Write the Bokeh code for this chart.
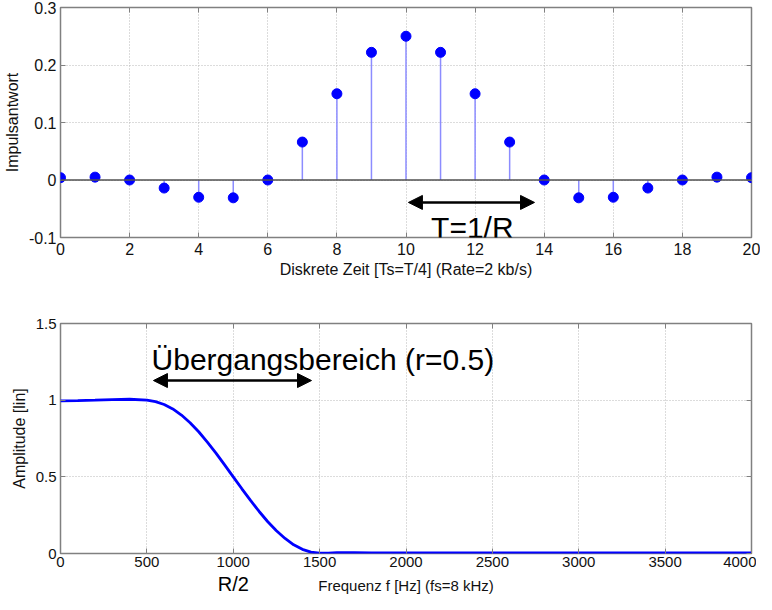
import numpy as np
from bokeh.plotting import figure
from bokeh.models import (Range1d, LinearAxis, FixedTicker, Arrow, NormalHead,
                          Label, CustomJSTickFormatter, Span)
from bokeh.core.properties import value
from bokeh.layouts import column
from bokeh.embed import file_html
from bokeh.resources import INLINE

# ---------------- data ----------------
n_samples = list(range(21))
impulse = [0.004, 0.005, 0.0, -0.014, -0.030, -0.031, 0.0, 0.066, 0.150, 0.222,
           0.250, 0.222, 0.150, 0.066, 0.0, -0.031, -0.030, -0.014, 0.0, 0.005, 0.004]

freq_hz = [0, 100, 200, 300, 400, 500, 550, 600, 650, 700, 750, 800, 850, 900, 950,
           1000, 1050, 1100, 1150, 1200, 1250, 1300, 1350, 1400, 1450, 1500, 1550,
           1600, 1700, 1800, 2000, 2500, 3000, 3500, 4000]
amplitude = [0.995, 0.997, 1.0, 1.004, 1.006, 1.0, 0.99, 0.972, 0.943, 0.903, 0.853,
             0.794, 0.727, 0.655, 0.578, 0.5, 0.422, 0.346, 0.274, 0.207, 0.148,
             0.098, 0.057, 0.027, 0.009, 0.002, 0.003, 0.005, 0.005, 0.004, 0.004,
             0.004, 0.004, 0.004, 0.004]

top_xticks = [0, 2, 4, 6, 8, 10, 12, 14, 16, 18, 20]
top_yticks = [-0.1, 0.0, 0.1, 0.2, 0.3]
bot_xticks = [0, 500, 1000, 1500, 2000, 2500, 3000, 3500, 4000]
bot_yticks = [0.0, 0.5, 1.0, 1.5]

top_xlabel = "Diskrete Zeit [Ts=T/4] (Rate=2 kb/s)"
top_ylabel = "Impulsantwort"
bot_xlabel = "Frequenz f [Hz] (fs=8 kHz)"
bot_ylabel = "Amplitude [lin]"

FONT = "Liberation Sans"
GRAY = "#808080"
FRAME_W, FRAME_H = 691, 230
LEFT, RIGHT = 56, 9


def style(p, xticks, yticks, yfmt, tick_size="16px", x_standoff=5):
    p.background_fill_color = "white"
    p.border_fill_color = "white"
    p.outline_line_color = GRAY
    p.outline_line_width = 1.5
    for ax in list(p.xaxis) + list(p.yaxis):
        ax.axis_line_color = None
        ax.major_tick_in = 5
        ax.major_tick_out = 0
        ax.major_tick_line_color = GRAY
        ax.minor_tick_line_color = None
        ax.major_label_text_font = FONT
        ax.major_label_text_font_size = tick_size
        ax.major_label_text_color = "#111111"
        ax.axis_label_text_font = FONT
        ax.axis_label_text_font_size = "16px"
        ax.axis_label_text_font_style = "normal"
        ax.axis_label_text_color = "#111111"
    p.xaxis.ticker = FixedTicker(ticks=xticks)
    p.yaxis.ticker = FixedTicker(ticks=yticks)
    p.yaxis.formatter = CustomJSTickFormatter(code=yfmt)
    p.xaxis.major_label_standoff = x_standoff
    p.yaxis.major_label_standoff = 4
    p.xaxis.axis_label_standoff = 3
    p.yaxis.axis_label_standoff = 5
    for g in [p.xgrid, p.ygrid]:
        g.grid_line_color = "#b8b8b8"
        g.grid_line_dash = "1 2"
        g.grid_line_width = 1
    p.xgrid.ticker = FixedTicker(ticks=xticks)
    p.ygrid.ticker = FixedTicker(ticks=yticks)
    # mirrored inside ticks on the top and right edges (MATLAB box)
    for loc, tk in (("right", yticks), ("above", xticks)):
        ax = LinearAxis(ticker=FixedTicker(ticks=tk), major_label_text_font_size="0px",
                        axis_line_color=None, major_tick_in=5, major_tick_out=0,
                        major_tick_line_color=GRAY, minor_tick_line_color=None,
                        major_label_standoff=0)
        p.add_layout(ax, loc)


def arrow(p, x0, x1, y):
    p.add_layout(Arrow(start=NormalHead(size=14, fill_color="black", line_color="black"),
                       end=NormalHead(size=14, fill_color="black", line_color="black"),
                       x_start=x0, y_start=y, x_end=x1, y_end=y,
                       line_width=2.5, line_color="black"))


# ---------------- top: impulse response ----------------
p1 = figure(frame_width=FRAME_W, frame_height=FRAME_H, output_backend="svg",
            toolbar_location=None,
            x_range=Range1d(0, 20), y_range=Range1d(-0.1, 0.3),
            min_border_left=LEFT, min_border_right=RIGHT, min_border_top=7,
            min_border_bottom=55,
            x_axis_label=top_xlabel, y_axis_label=top_ylabel)
style(p1, top_xticks, top_yticks,
      "return Math.abs(tick) < 1e-9 ? '0' : tick.toFixed(1);")
p1.add_layout(Span(location=0, dimension="width", line_color="#505050", line_width=1.5))
p1.segment(x0=n_samples, y0=[0] * len(n_samples), x1=n_samples, y1=impulse,
           line_color="#8c8cff", line_width=1.5)
p1.scatter(n_samples, impulse, size=10, fill_color="#0000ff", line_color="#0000ff")
arrow(p1, 10.07, 13.72, -0.039)
p1.add_layout(Label(x=11.92, y=-0.083, text="T=1/R", text_align="center",
                    text_baseline="alphabetic", text_font=FONT, text_font_size="30px",
                    text_color="black"))

# ---------------- bottom: frequency response ----------------
p2 = figure(frame_width=FRAME_W, frame_height=FRAME_H, output_backend="svg",
            toolbar_location=None,
            x_range=Range1d(0, 4000), y_range=Range1d(0, 1.5),
            min_border_left=LEFT, min_border_right=RIGHT, min_border_top=31,
            min_border_bottom=24,
            y_axis_label=bot_ylabel)
style(p2, bot_xticks, bot_yticks,
      "return (Math.round(tick * 10) / 10).toString();", tick_size="15px", x_standoff=3)
p2.line(freq_hz, amplitude, line_color="#0000ff", line_width=2.8)
arrow(p2, 538, 1453, 1.128)
p2.add_layout(Label(x=527, y=1.266, text="Übergangsbereich (r=0.5)", text_align="left",
                    text_baseline="alphabetic", text_font=FONT, text_font_size="30px",
                    text_color="black"))

# ------- transparent strip overlapping the lower plot's bottom border -------
# carries the lower plot's x-axis title and the "R/2" mark, on the same x scale
STRIP_H = 41
p3 = figure(frame_width=FRAME_W, frame_height=STRIP_H, output_backend="svg",
            toolbar_location=None, x_range=p2.x_range, y_range=Range1d(0, STRIP_H),
            min_border_left=LEFT, min_border_right=RIGHT, min_border_top=0,
            min_border_bottom=0, x_axis_location=None, y_axis_location=None,
            margin=(-24, 0, 0, 0))
p3.outline_line_color = None
p3.xgrid.visible = False
p3.ygrid.visible = False
p3.background_fill_color = None
p3.border_fill_color = None
p3.text(x=[1000], y=[10.3], text=["R/2"], text_align="center",
        text_baseline="alphabetic", text_font=value(FONT), text_font_size="20px",
        text_color="black")
p3.text(x=[2000], y=[9.5], text=[bot_xlabel], text_align="center",
        text_baseline="alphabetic", text_font=value(FONT), text_font_size="15px",
        text_color="#111111")

layout = column(p1, p2, p3, spacing=0)
open("out.html", "w").write(file_html(layout, INLINE))
